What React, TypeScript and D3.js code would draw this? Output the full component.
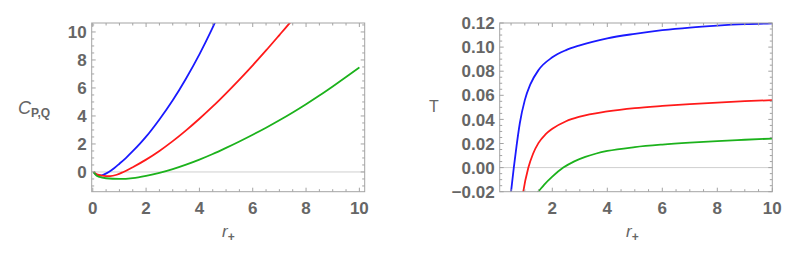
import React from "react";
import * as d3 from "d3";

// ---------- Data ----------
// Left panel: C_{P,Q} vs r+
const cBlue: [number, number][] = [
  [0.03, 0], [0.1, -0.15], [0.2, -0.22], [0.33, -0.24], [0.45, -0.15], [0.6, 0],
  [0.8, 0.27], [1.0, 0.59], [1.25, 1.01], [1.5, 1.48], [1.77, 2.02], [2.0, 2.52],
  [2.5, 3.75], [3.0, 5.12], [3.5, 6.68], [4.0, 8.4], [4.42, 10.0], [4.8, 11.6],
];
const cRed: [number, number][] = [
  [0.03, 0], [0.15, -0.17], [0.35, -0.26], [0.65, -0.3], [0.9, -0.2], [1.15, 0],
  [1.5, 0.34], [2.0, 0.88], [2.5, 1.5], [3.0, 2.2], [3.5, 2.97], [4.0, 3.8],
  [4.5, 4.68], [5.0, 5.62], [5.5, 6.6], [6.0, 7.62], [6.5, 8.68], [7.0, 9.78],
  [7.4, 10.67], [7.8, 11.6],
];
const cGreen: [number, number][] = [
  [0.03, 0], [0.12, -0.22], [0.25, -0.35], [0.5, -0.45], [1.0, -0.5], [1.5, -0.44],
  [2.0, -0.28], [2.5, -0.07], [3.0, 0.2], [3.5, 0.52], [4.0, 0.88],
  [4.5, 1.28], [5.0, 1.72], [5.5, 2.18], [6.0, 2.66], [6.5, 3.16], [7.0, 3.69],
  [7.5, 4.25], [8.0, 4.84], [8.5, 5.46], [9.0, 6.11], [9.5, 6.78], [10, 7.47],
];
// Right panel: T vs r+
const tBlue: [number, number][] = [
  [0.48, -0.024], [0.5, -0.02], [0.6, 0], [0.7, 0.018], [0.82, 0.037], [1.0, 0.056],
  [1.2, 0.069], [1.5, 0.081], [2.0, 0.0915], [2.5, 0.0975], [3.0, 0.1015],
  [4.0, 0.1073], [5.0, 0.111], [6.0, 0.114], [7.0, 0.1162], [8.0, 0.1178],
  [9.0, 0.119], [10, 0.1197],
];
const tRed: [number, number][] = [
  [0.92, -0.024], [0.945, -0.02], [1.13, 0], [1.3, 0.0115], [1.5, 0.0205], [1.75, 0.0275],
  [2.0, 0.0322], [2.5, 0.0385], [3.0, 0.0423], [4.0, 0.0466], [5.0, 0.0494],
  [6.0, 0.0512], [7.0, 0.0527], [8.0, 0.054], [9.0, 0.0551], [10, 0.056],
];
const tGreen: [number, number][] = [
  [1.45, -0.021], [1.49, -0.02], [1.7, -0.0143], [2.0, -0.0075], [2.4, 0], [2.8, 0.0052],
  [3.2, 0.0089], [3.6, 0.0117], [4.0, 0.0138], [5.0, 0.017], [6.0, 0.0191],
  [7.0, 0.0207], [8.0, 0.022], [9.0, 0.0231], [10, 0.0241],
];

const leftXTicks = [0, 2, 4, 6, 8, 10];
const leftYTicks = [0, 2, 4, 6, 8, 10];
const rightXTicks = [2, 4, 6, 8, 10];
const rightYTicks = [-0.02, 0, 0.02, 0.04, 0.06, 0.08, 0.1, 0.12];

const BLUE = "#1a1aff";
const RED = "#ff1a1a";
const GREEN = "#1cb21c";
const FRAME = "#a3a3a3";
const LABEL = "#666666";
const FONT = "'Liberation Sans', Arial, sans-serif";

type PanelProps = {
  id: string;
  xDomain: [number, number];
  yDomain: [number, number];
  xRange: [number, number];
  yRange: [number, number];
  xTicks: number[];
  yTicks: number[];
  xMinorStep: number;
  yMinorStep: number;
  yFormat: (v: number) => string;
  series: { data: [number, number][]; color: string }[];
};

function Panel(p: PanelProps) {
  const x = d3.scaleLinear().domain(p.xDomain).range(p.xRange);
  const y = d3.scaleLinear().domain(p.yDomain).range(p.yRange);
  const [x0, x1] = p.xRange;
  const [y0, y1] = p.yRange; // y0 bottom, y1 top
  const line = d3
    .line<[number, number]>()
    .x((d) => x(d[0]))
    .y((d) => y(d[1]))
    .curve(d3.curveMonotoneX);

  const xMinor = d3
    .range(Math.ceil(p.xDomain[0] / p.xMinorStep), Math.floor(p.xDomain[1] / p.xMinorStep) + 1)
    .map((i) => +(i * p.xMinorStep).toFixed(6));
  const yMinor = d3
    .range(Math.ceil(p.yDomain[0] / p.yMinorStep - 1e-9), Math.floor(p.yDomain[1] / p.yMinorStep + 1e-9) + 1)
    .map((i) => +(i * p.yMinorStep).toFixed(6));
  const isMajor = (v: number, arr: number[]) => arr.some((t) => Math.abs(t - v) < 1e-6);
  const MAJ = 4;
  const MIN = 2.5;

  return (
    <g>
      <defs>
        <clipPath id={p.id}>
          <rect x={x0} y={y1} width={x1 - x0} height={y0 - y1} />
        </clipPath>
      </defs>
      {/* zero line */}
      <line x1={x0} x2={x1} y1={y(0)} y2={y(0)} stroke="#cfcfcf" strokeWidth={1} />
      <g clipPath={`url(#${p.id})`}>
        {p.series.map((s, i) => (
          <path key={i} d={line(s.data) || ""} fill="none" stroke={s.color} strokeWidth={1.8} />
        ))}
      </g>
      {/* frame */}
      <rect x={x0} y={y1} width={x1 - x0} height={y0 - y1} fill="none" stroke={FRAME} strokeWidth={1} />
      {/* ticks */}
      {xMinor.map((v) => {
        const L = isMajor(v, p.xTicks) ? MAJ : MIN;
        const px = x(v);
        if (px < x0 - 0.1 || px > x1 + 0.1) return null;
        return (
          <g key={"xt" + v}>
            <line x1={px} x2={px} y1={y0} y2={y0 - L} stroke={FRAME} />
            <line x1={px} x2={px} y1={y1} y2={y1 + L} stroke={FRAME} />
          </g>
        );
      })}
      {yMinor.map((v) => {
        const L = isMajor(v, p.yTicks) ? MAJ : MIN;
        const py = y(v);
        if (py < y1 - 0.1 || py > y0 + 0.1) return null;
        return (
          <g key={"yt" + v}>
            <line x1={x0} x2={x0 + L} y1={py} y2={py} stroke={FRAME} />
            <line x1={x1} x2={x1 - L} y1={py} y2={py} stroke={FRAME} />
          </g>
        );
      })}
      {p.xTicks.map((v) => (
        <text key={"xl" + v} x={x(v)} y={214} textAnchor="middle" fontFamily={FONT}
          fontWeight="bold" fontSize={17} fill={LABEL}>
          {String(v)}
        </text>
      ))}
      {p.yTicks.map((v) => (
        <text key={"yl" + v} x={x0 - 5} y={y(v)} dy="0.36em" textAnchor="end" fontFamily={FONT}
          fontWeight="bold" fontSize={17} fill={LABEL}>
          {p.yFormat(v)}
        </text>
      ))}
    </g>
  );
}

export default function App() {
  return (
    <svg width={800} height={263} style={{ position: "absolute", left: 0, top: 0, background: "#fff" }}>
      <Panel
        id="clipL"
        xDomain={[-0.04, 10.2]}
        yDomain={[-1.41, 10.64]}
        xRange={[91.7, 364.7]}
        yRange={[191.7, 23]}
        xTicks={leftXTicks}
        yTicks={leftYTicks}
        xMinorStep={0.5}
        yMinorStep={0.5}
        yFormat={(v) => String(v)}
        series={[
          { data: cBlue, color: BLUE },
          { data: cRed, color: RED },
          { data: cGreen, color: GREEN },
        ]}
      />
      <Panel
        id="clipR"
        xDomain={[0.087, 10]}
        yDomain={[-0.02, 0.12]}
        xRange={[499.7, 772.3]}
        yRange={[191.7, 23]}
        xTicks={rightXTicks}
        yTicks={rightYTicks}
        xMinorStep={0.5}
        yMinorStep={0.005}
        yFormat={(v) => (v < 0 ? "\u2212" + Math.abs(v).toFixed(2) : v.toFixed(2))}
        series={[
          { data: tBlue, color: BLUE },
          { data: tRed, color: RED },
          { data: tGreen, color: GREEN },
        ]}
      />
      {/* axis labels */}
      <text x={18} y={114} fontFamily={FONT} fontSize={18} fontStyle="italic" fill={LABEL}>
        C
        <tspan fontSize={12} fontStyle="normal" fontWeight="bold" dy={3}>P,Q</tspan>
      </text>
      <text x={429} y={112} fontFamily={FONT} fontSize={16} fill={LABEL}>T</text>
      {[{ cx: 222 }, { cx: 626 }].map((o, i) => (
        <text key={i} x={o.cx} y={237} fontFamily={FONT} fontSize={17} fill={LABEL}>
          <tspan fontStyle="italic">r</tspan>
          <tspan fontSize={12} fontWeight="bold" dy={4}>+</tspan>
        </text>
      ))}
    </svg>
  );
}
